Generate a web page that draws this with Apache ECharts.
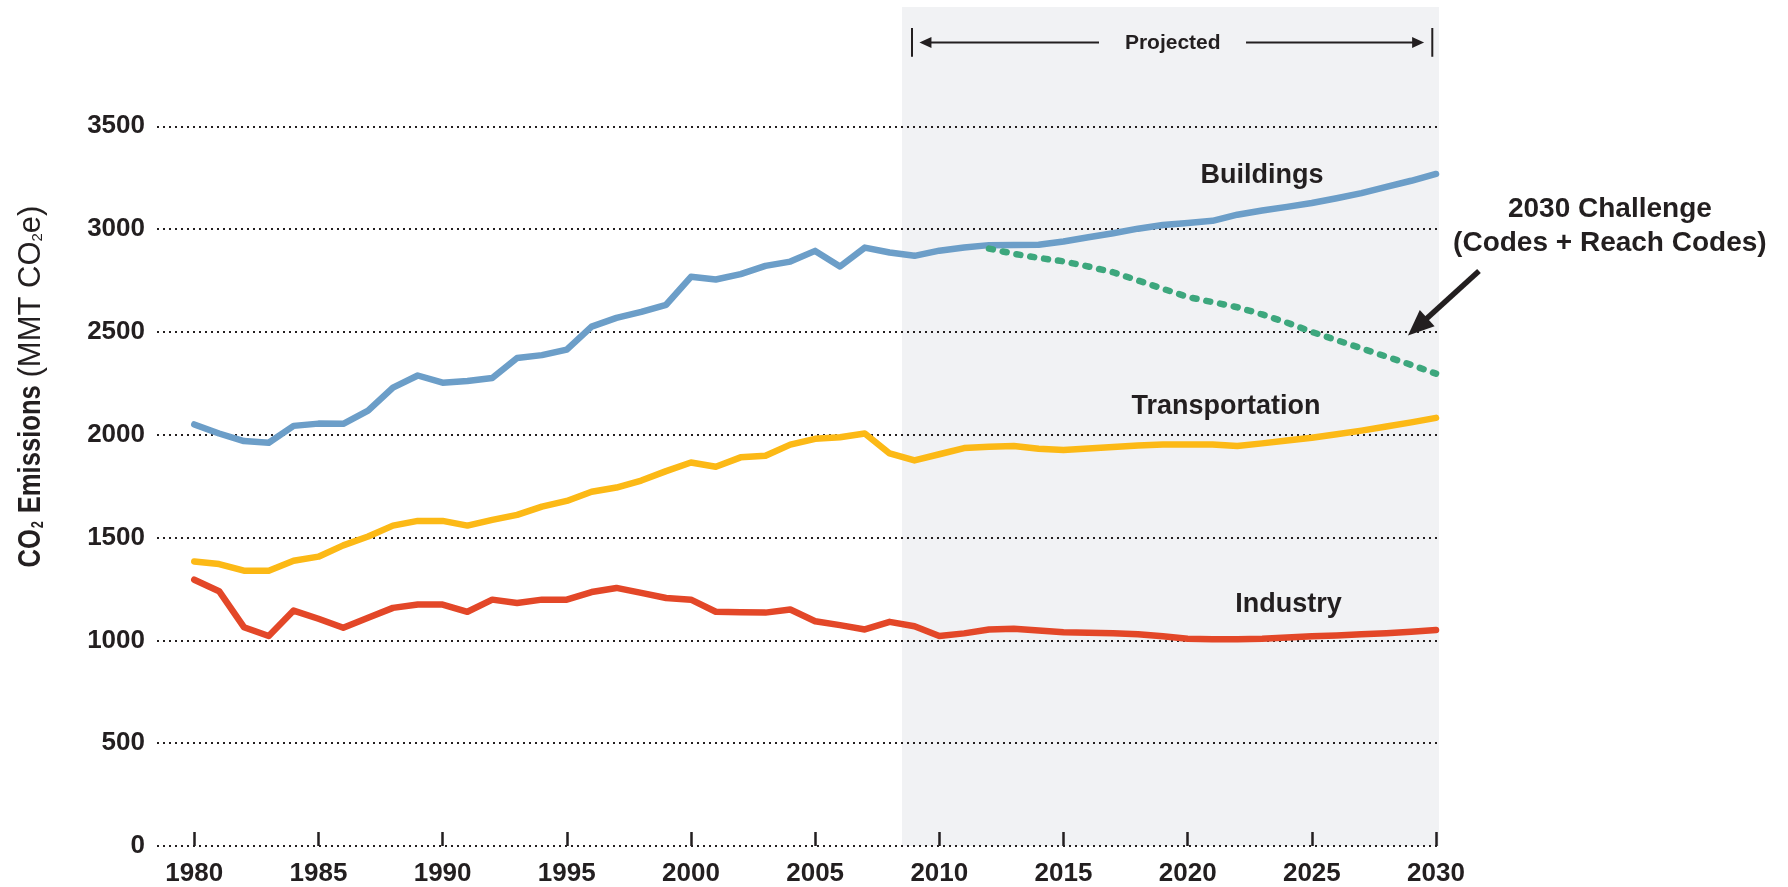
<!DOCTYPE html>
<html><head><meta charset="utf-8">
<script src="https://cdn.jsdelivr.net/npm/echarts@6/dist/echarts.min.js"></script>
<style>html,body{margin:0;padding:0;background:#fff}#c{width:1788px;height:887px}</style>
</head><body><div id="c"></div>
<script>
const years = [1980,1981,1982,1983,1984,1985,1986,1987,1988,1989,1990,1991,1992,1993,1994,1995,1996,1997,1998,1999,2000,2001,2002,2003,2004,2005,2006,2007,2008,2009,2010,2011,2012,2013,2014,2015,2016,2017,2018,2019,2020,2021,2022,2023,2024,2025,2026,2027,2028,2029,2030];
const buildings = [2050,2006,1969,1961,2043,2054,2053,2117,2229,2288,2253,2261,2276,2373,2387,2414,2526,2568,2597,2632,2768,2755,2781,2821,2842,2894,2818,2910,2886,2870,2895,2910,2922,2923,2924,2940,2960,2980,3002,3020,3030,3040,3070,3090,3108,3127,3150,3175,3205,3235,3268];
const transportation = [1384,1371,1339,1339,1387,1407,1462,1505,1558,1581,1581,1558,1586,1610,1650,1678,1723,1743,1777,1823,1865,1844,1890,1898,1952,1980,1988,2006,1909,1875,1905,1935,1942,1945,1932,1926,1933,1940,1948,1952,1953,1952,1945,1958,1972,1985,2002,2020,2040,2060,2082];
const industry = [1295,1239,1064,1021,1145,1105,1061,1110,1158,1174,1174,1139,1198,1182,1198,1198,1235,1255,1231,1206,1198,1139,1137,1135,1150,1093,1074,1053,1090,1069,1021,1034,1053,1056,1048,1040,1037,1035,1030,1020,1008,1006,1005,1008,1014,1020,1024,1030,1035,1042,1050];
const challengeYears = [2012,2013,2014,2015,2016,2017,2018,2019,2020,2021,2022,2023,2024,2025,2026,2027,2028,2029,2030];
const challenge = [2905,2880,2860,2843,2818,2790,2750,2710,2670,2645,2620,2585,2545,2500,2460,2420,2380,2340,2297];
const xTicks = [1980,1985,1990,1995,2000,2005,2010,2015,2020,2025,2030];
const yTicks = [0,500,1000,1500,2000,2500,3000,3500];
const seriesNames = ['Buildings','Transportation','Industry','2030 Challenge','(Codes + Reach Codes)'];
const projectedLabel = 'Projected';
const projectedStart = 2008.5, projectedEnd = 2030.12;

const INK = '#231f20';
const FONT = "'Liberation Sans', Arial, sans-serif";
const pairs = (xs, ys) => xs.map((x, i) => [x, ys[i]]);

// annotation anchors (data coordinates)
const ann = {
  labels: [
    {at: [2022.99, 3262], text: seriesNames[0], size: 27},
    {at: [2021.54, 2137], text: seriesNames[1], size: 27},
    {at: [2024.06, 1173], text: seriesNames[2], size: 27},
    {at: [2037.0, 3095], text: seriesNames[3], size: 28},
    {at: [2037.0, 2930], text: seriesNames[4], size: 28},
    {at: [2019.4, 3905], text: projectedLabel, size: 21}
  ],
  bars: [[2008.9, 3838, 3978], [2029.85, 3838, 3978]],
  smallArrows: [[[2016.43, 3907], [2009.2, 3907]], [[2022.35, 3907], [2029.52, 3907]]],
  bigArrow: [[2031.73, 2796], [2028.87, 2482]]
};

function arrowShapes(api, from, to, w, headLen, headW) {
  const a = api.coord(from), b = api.coord(to);
  const dx = b[0] - a[0], dy = b[1] - a[1];
  const L = Math.sqrt(dx * dx + dy * dy), ux = dx / L, uy = dy / L;
  const bx = b[0] - ux * headLen, by = b[1] - uy * headLen;
  const nx = -uy, ny = ux;
  return [
    {type: 'line', shape: {x1: a[0], y1: a[1], x2: bx + ux * 1, y2: by + uy * 1},
      style: {stroke: INK, lineWidth: w, fill: null}},
    {type: 'polygon', shape: {points: [[b[0], b[1]], [bx + nx * headW / 2, by + ny * headW / 2], [bx - nx * headW / 2, by - ny * headW / 2]]},
      style: {fill: INK, stroke: null}}
  ];
}

const chart = echarts.init(document.getElementById('c'), null, {renderer: 'canvas'});
const lineCommon = {type: 'line', showSymbol: false, symbol: 'none', silent: true, z: 5};

const option = {
  animation: false,
  backgroundColor: '#ffffff',
  grid: {left: 157, right: 349, top: 7, bottom: 38, containLabel: false},
  xAxis: {
    type: 'value', min: 1978.5, max: projectedEnd, z: 10,
    splitLine: {show: false},
    axisLine: {show: false},
    axisTick: {show: true, inside: true, length: 14, customValues: xTicks,
      lineStyle: {color: INK, width: 2.5}},
    axisLabel: {customValues: xTicks, margin: 15, color: INK, fontSize: 26, fontWeight: 'bold',
      fontFamily: FONT, formatter: v => String(v)}
  },
  yAxis: {
    type: 'value', min: 0, max: 4080, z: 10,
    splitLine: {show: false}, axisLine: {show: false}, axisTick: {show: false},
    axisLabel: {customValues: yTicks, margin: 12, color: INK, fontSize: 26, fontWeight: 'bold',
      fontFamily: FONT, formatter: v => String(v)}
  },
  graphic: [{
    type: 'group', x: 31, y: 388, rotation: Math.PI / 2, silent: true,
    children: [
      {type: 'text', x: -179.5, y: 0, scaleX: 0.8, silent: true,
        style: {text: '{b|CO}{s|2}{b| Emissions}', align: 'left', verticalAlign: 'middle',
          rich: {
            b: {fontFamily: FONT, fontWeight: 'bold', fontSize: 32, fill: INK, color: INK},
            s: {fontFamily: FONT, fontWeight: 'bold', fontSize: 16, fill: INK, color: INK, padding: [15, 1, 0, 1]}
          }}},
      {type: 'text', x: 10.5, y: 0, silent: true,
        style: {text: '{r|(MMT CO}{s|2}{r|e)}', align: 'left', verticalAlign: 'middle',
          rich: {
            r: {fontFamily: FONT, fontWeight: 'normal', fontSize: 31, fill: INK, color: INK},
            s: {fontFamily: FONT, fontWeight: 'normal', fontSize: 15, fill: INK, color: INK, padding: [13, 0, 0, 0]}
          }}}
    ]
  }],
  series: [
    { // projected shading
      type: 'line', data: [], z: 0, silent: true,
      markArea: {silent: true, itemStyle: {color: '#f1f2f4'},
        data: [[{xAxis: projectedStart}, {xAxis: projectedEnd}]]}
    },
    { // dotted gridlines
      type: 'line', data: [], z: 1, silent: true,
      markLine: {silent: true, symbol: 'none', label: {show: false},
        lineStyle: {color: INK, type: [2, 4], width: 2},
        data: yTicks.map(v => ({yAxis: v}))}
    },
    Object.assign({}, lineCommon, {name: seriesNames[0], data: pairs(years, buildings),
      lineStyle: {width: 6.5, cap: 'round', join: 'round', color: '#6c9ec8'}, itemStyle: {color: '#6c9ec8'}}),
    Object.assign({}, lineCommon, {name: seriesNames[1], data: pairs(years, transportation),
      lineStyle: {width: 6.5, cap: 'round', join: 'round', color: '#fcb916'}, itemStyle: {color: '#fcb916'}}),
    Object.assign({}, lineCommon, {name: seriesNames[2], data: pairs(years, industry),
      lineStyle: {width: 6.5, cap: 'round', join: 'round', color: '#e34728'}, itemStyle: {color: '#e34728'}}),
    Object.assign({}, lineCommon, {name: seriesNames[3], data: pairs(challengeYears, challenge), z: 6,
      lineStyle: {width: 6.5, cap: 'round', join: 'round', color: '#3da77d', type: [4, 10]},
      itemStyle: {color: '#3da77d'}}),
    { // annotations
      type: 'custom', z: 8, silent: true, clip: false,
      data: [[2019, 3900]],
      renderItem: function (params, api) {
        const children = [];
        ann.bars.forEach(b => {
          const p1 = api.coord([b[0], b[1]]), p2 = api.coord([b[0], b[2]]);
          children.push({type: 'line', shape: {x1: p1[0], y1: p1[1], x2: p2[0], y2: p2[1]},
            style: {stroke: INK, lineWidth: 2}});
        });
        ann.smallArrows.forEach(a => children.push(...arrowShapes(api, a[0], a[1], 2, 12, 11)));
        children.push(...arrowShapes(api, ann.bigArrow[0], ann.bigArrow[1], 5.5, 26, 22));
        ann.labels.forEach(l => {
          const p = api.coord(l.at);
          children.push({type: 'text', x: p[0], y: p[1],
            style: {text: l.text, fill: INK, fontFamily: FONT, fontWeight: 'bold', fontSize: l.size,
              align: 'center', verticalAlign: 'middle'}});
        });
        return {type: 'group', children: children};
      }
    }
  ]
};
chart.setOption(option);
</script>
</body></html>
